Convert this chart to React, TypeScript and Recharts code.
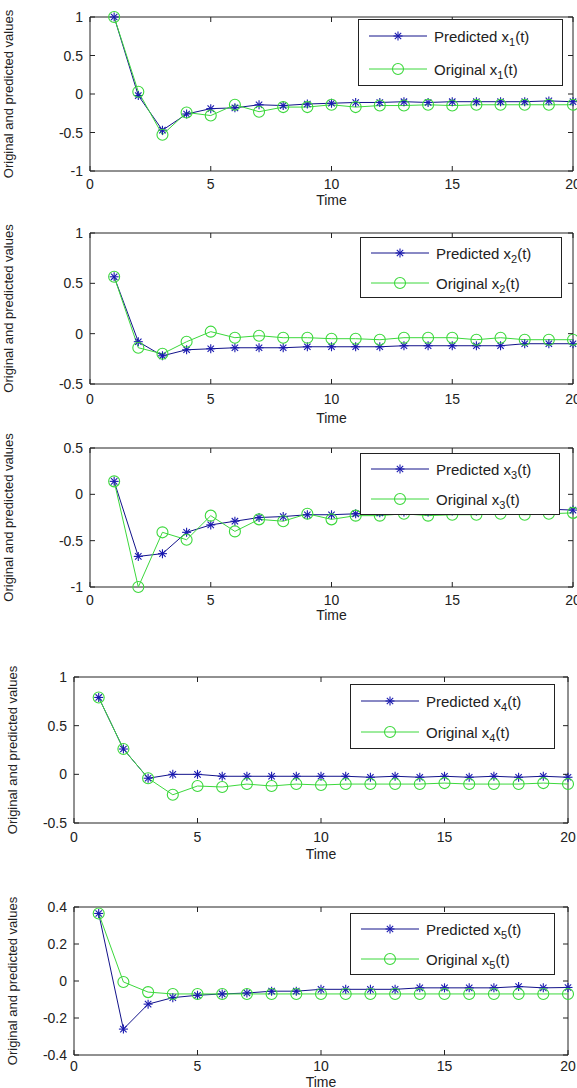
import React from 'react';
import { LineChart, Line, XAxis, YAxis, Legend, ReferenceArea } from 'recharts';

// time steps and axis ticks
const TIME = [1, 2, 3, 4, 5, 6, 7, 8, 9, 10, 11, 12, 13, 14, 15, 16, 17, 18, 19, 20];
const TIME_TICKS = [0, 5, 10, 15, 20];

// x1(t)
const PRED_X1 = [1.0, -0.02, -0.47, -0.26, -0.19, -0.18, -0.14, -0.15, -0.13, -0.12, -0.11, -0.11, -0.1, -0.11, -0.1, -0.1, -0.1, -0.1, -0.09, -0.1];
const ORIG_X1 = [1.0, 0.03, -0.53, -0.24, -0.28, -0.14, -0.23, -0.17, -0.17, -0.14, -0.17, -0.15, -0.15, -0.14, -0.15, -0.14, -0.14, -0.14, -0.14, -0.14];
const Y_TICKS_1 = [-1, -0.5, 0, 0.5, 1];

// x2(t)
const PRED_X2 = [0.565, -0.08, -0.22, -0.16, -0.15, -0.14, -0.14, -0.14, -0.13, -0.13, -0.13, -0.13, -0.12, -0.12, -0.12, -0.12, -0.12, -0.1, -0.1, -0.1];
const ORIG_X2 = [0.565, -0.14, -0.2, -0.08, 0.02, -0.04, -0.02, -0.04, -0.04, -0.05, -0.05, -0.06, -0.04, -0.04, -0.04, -0.06, -0.04, -0.06, -0.06, -0.06];
const Y_TICKS_2 = [-0.5, 0, 0.5, 1];

// x3(t)
const PRED_X3 = [0.14, -0.67, -0.64, -0.41, -0.33, -0.29, -0.25, -0.24, -0.22, -0.22, -0.21, -0.2, -0.19, -0.19, -0.18, -0.18, -0.17, -0.17, -0.16, -0.17];
const ORIG_X3 = [0.14, -1.0, -0.41, -0.49, -0.23, -0.4, -0.27, -0.29, -0.21, -0.27, -0.23, -0.23, -0.21, -0.23, -0.22, -0.22, -0.21, -0.22, -0.21, -0.2];
const Y_TICKS_3 = [-1, -0.5, 0, 0.5];

// x4(t)
const PRED_X4 = [0.79, 0.26, -0.04, 0.0, 0.0, -0.02, -0.02, -0.02, -0.02, -0.02, -0.02, -0.03, -0.02, -0.03, -0.02, -0.03, -0.02, -0.03, -0.02, -0.03];
const ORIG_X4 = [0.79, 0.26, -0.04, -0.21, -0.12, -0.13, -0.1, -0.12, -0.1, -0.11, -0.1, -0.1, -0.1, -0.1, -0.09, -0.1, -0.1, -0.1, -0.09, -0.1];
const Y_TICKS_4 = [-0.5, 0, 0.5, 1];

// x5(t)
const PRED_X5 = [0.365, -0.26, -0.125, -0.09, -0.077, -0.07, -0.065, -0.055, -0.055, -0.045, -0.045, -0.045, -0.045, -0.037, -0.037, -0.037, -0.037, -0.03, -0.037, -0.035];
const ORIG_X5 = [0.365, -0.005, -0.06, -0.07, -0.07, -0.07, -0.07, -0.07, -0.07, -0.07, -0.07, -0.07, -0.07, -0.07, -0.07, -0.07, -0.07, -0.07, -0.07, -0.07];
const Y_TICKS_5 = [-0.4, -0.2, 0, 0.2, 0.4];

const FONT = '"Liberation Sans", Arial, sans-serif';
const BLUE = '#12128a';
const STAR = '#1a1ab0';
const GREEN = '#3cd83c';
const INK = '#222';
const TICK_FONT = 14;

// page layout of each subplot (absolute px in the 577x1088 page)
// plot: [left, top, right, bottom]; xLab: distance of tick label centre below axis
const LAYOUT = [
  { top: 0, height: 215, plot: [90, 17, 573, 171], yLabelX: 8, xLab: 13, timeBase: 205, legend: [358, 19, 205, 67] },
  { top: 215, height: 215, plot: [90, 233, 573, 384], yLabelX: 8, xLab: 15, timeBase: 423, legend: [360, 237, 202, 61] },
  { top: 430, height: 215, plot: [90, 448, 573, 587], yLabelX: 8, xLab: 13, timeBase: 620, legend: [360, 453, 200, 62] },
  { top: 645, height: 230, plot: [74, 677, 568, 823], yLabelX: 12, xLab: 14, timeBase: 859, legend: [350, 684, 205, 65] },
  { top: 875, height: 213, plot: [74, 907, 568, 1055], yLabelX: 12, xLab: 11, timeBase: 1087, legend: [350, 913, 205, 62] },
];

const StarDot = (props: any) => {
  const { cx, cy } = props;
  if (cx == null || cy == null) return null;
  const r = 4.5;
  const d = 3.2;
  return (
    <g stroke={STAR} strokeWidth={1.1}>
      <line x1={cx - r} y1={cy} x2={cx + r} y2={cy} />
      <line x1={cx} y1={cy - r} x2={cx} y2={cy + r} />
      <line x1={cx - d} y1={cy - d} x2={cx + d} y2={cy + d} />
      <line x1={cx - d} y1={cy + d} x2={cx + d} y2={cy - d} />
    </g>
  );
};

const CircleDot = (props: any) => {
  const { cx, cy } = props;
  if (cx == null || cy == null) return null;
  return <circle cx={cx} cy={cy} r={5.5} fill="none" stroke={GREEN} strokeWidth={1.1} />;
};

const LegendBox = ({ n, w, h }: { n: number; w: number; h: number }) => {
  const rows = [
    { label: 'Predicted', color: BLUE, mark: 'star', c: Math.round(h * 0.24) },
    { label: 'Original', color: GREEN, mark: 'circle', c: Math.round(h * 0.73) },
  ];
  return (
    <div
      style={{
        width: w,
        height: h,
        boxSizing: 'border-box',
        border: `1px solid ${INK}`,
        background: '#fff',
        position: 'relative',
        fontFamily: FONT,
        fontSize: 15,
        color: INK,
      }}
    >
      {rows.map((r) => (
        <div key={r.label} style={{ position: 'absolute', left: 0, top: r.c - 9, height: 18, display: 'flex', alignItems: 'center' }}>
          <svg width={72} height={18}>
            <line x1={10} y1={9} x2={68} y2={9} stroke={r.color} strokeWidth={1} />
            {r.mark === 'star' ? <StarDot cx={39} cy={9} /> : <CircleDot cx={39} cy={9} />}
          </svg>
          <span style={{ marginLeft: 3, whiteSpace: 'nowrap' }}>
            {r.label} x<span style={{ fontSize: 11, position: 'relative', top: 4 }}>{n}</span>(t)
          </span>
        </div>
      ))}
    </div>
  );
};

interface PanelProps {
  n: number;
  pred: number[];
  orig: number[];
  yTicks: number[];
  layout: (typeof LAYOUT)[number];
}

const Panel = ({ n, pred, orig, yTicks, layout }: PanelProps) => {
  const data = TIME.map((t, i) => ({ t, pred: pred[i], orig: orig[i] }));
  const [pl, ptAbs, pr, pbAbs] = layout.plot;
  const { top, height } = layout;
  const pt = ptAbs - top;
  const pb = pbAbs - top;
  const yMin = yTicks[0];
  const yMax = yTicks[yTicks.length - 1];
  const textStyle = { fill: INK, fontSize: TICK_FONT, fontFamily: FONT };
  const [lx, ly, lw, lh] = layout.legend;

  // MATLAB-like ticks: pointing inward on both opposite edges of the box
  const xTick = (p: any) => (
    <g key={`xt${p.index}`}>
      <line x1={p.x} y1={pb} x2={p.x} y2={pb - 5} stroke={INK} />
      <line x1={p.x} y1={pt} x2={p.x} y2={pt + 5} stroke={INK} />
      <text x={p.x} y={pb + layout.xLab} dominantBaseline="central" textAnchor="middle" {...textStyle}>
        {p.payload.value}
      </text>
    </g>
  );
  const yTick = (p: any) => (
    <g key={`yt${p.index}`}>
      <line x1={pl} y1={p.y} x2={pl + 5} y2={p.y} stroke={INK} />
      <line x1={pr} y1={p.y} x2={pr - 5} y2={p.y} stroke={INK} />
      <text x={pl - 7} y={p.y} dominantBaseline="central" textAnchor="end" {...textStyle}>
        {p.payload.value}
      </text>
    </g>
  );

  return (
    <div style={{ position: 'absolute', left: 0, top }}>
      <LineChart width={577} height={height} data={data} margin={{ top: pt, right: 577 - pr, bottom: 0, left: 0 }}>
        <XAxis
          xAxisId="b"
          dataKey="t"
          type="number"
          domain={[0, 20]}
          ticks={TIME_TICKS}
          height={height - pb}
          axisLine={false}
          tickLine={false}
          tick={xTick}
          interval={0}
          label={{ value: 'Time', position: 'insideBottom', offset: top + height - layout.timeBase, style: textStyle }}
        />
        <YAxis
          yAxisId="l"
          type="number"
          domain={[yMin, yMax]}
          ticks={yTicks}
          width={pl}
          axisLine={false}
          tickLine={false}
          tick={yTick}
          interval={0}
          label={{
            value: 'Original and predicted values',
            angle: -90,
            position: 'insideLeft',
            offset: layout.yLabelX,
            style: { textAnchor: 'middle', fontSize: 13, fontFamily: FONT, fill: INK },
          }}
        />
        <ReferenceArea
          xAxisId="b"
          yAxisId="l"
          x1={0}
          x2={20}
          y1={yMin}
          y2={yMax}
          fill="none"
          stroke={INK}
          strokeWidth={1}
          ifOverflow="visible"
        />
        <Legend
          layout="horizontal"
          verticalAlign="middle"
          align="center"
          content={() => <LegendBox n={n} w={lw} h={lh} />}
          wrapperStyle={{ position: 'absolute', left: lx, top: ly - top, width: lw, height: lh }}
        />
        <Line
          xAxisId="b"
          yAxisId="l"
          dataKey="pred"
          stroke={BLUE}
          strokeWidth={1}
          dot={(p: any) => <StarDot key={`s${p.index}`} {...p} />}
          isAnimationActive={false}
        />
        <Line
          xAxisId="b"
          yAxisId="l"
          dataKey="orig"
          stroke={GREEN}
          strokeWidth={1}
          dot={(p: any) => <CircleDot key={`c${p.index}`} {...p} />}
          isAnimationActive={false}
        />
      </LineChart>
    </div>
  );
};

const PANELS = [
  { pred: PRED_X1, orig: ORIG_X1, yTicks: Y_TICKS_1 },
  { pred: PRED_X2, orig: ORIG_X2, yTicks: Y_TICKS_2 },
  { pred: PRED_X3, orig: ORIG_X3, yTicks: Y_TICKS_3 },
  { pred: PRED_X4, orig: ORIG_X4, yTicks: Y_TICKS_4 },
  { pred: PRED_X5, orig: ORIG_X5, yTicks: Y_TICKS_5 },
];

export default function App() {
  return (
    <div style={{ position: 'relative', width: 577, height: 1088, background: '#fff', overflow: 'hidden' }}>
      <style>{'body{margin:0}'}</style>
      {PANELS.map((p, i) => (
        <Panel key={i} n={i + 1} pred={p.pred} orig={p.orig} yTicks={p.yTicks} layout={LAYOUT[i]} />
      ))}
    </div>
  );
}
